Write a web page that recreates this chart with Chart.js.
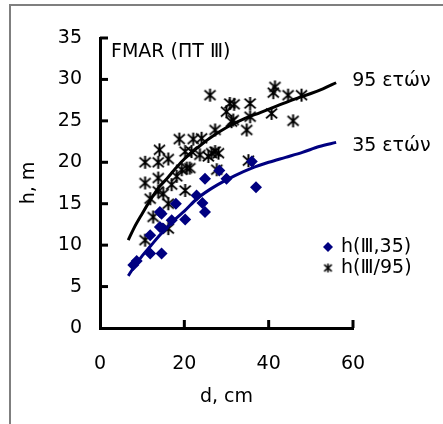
<!DOCTYPE html>
<html><head><meta charset="utf-8">
<script src="https://cdn.jsdelivr.net/npm/chart.js@4"></script>
<style>
html,body{margin:0;padding:0;background:#fff;}
#box{position:absolute;left:9px;top:4px;width:434px;height:420px;border-left:2px solid #808080;border-top:2px solid #808080;box-sizing:border-box;}
canvas{position:absolute;left:0;top:0;}
</style></head><body>
<div id="box"></div>
<canvas id="c" width="443" height="424"></canvas>
<script>
// observed points, 35-year heights
const d35 = [7.9, 8.7, 11.9, 11.9, 14.6, 14.2, 14.2, 14.9, 14.6, 17.0, 18.0, 20.2, 22.9, 24.3, 24.9, 24.9, 28.3, 30.0, 36.0, 37.0];
const h35 = [7.6, 8.1, 11.2, 9.0, 9.0, 14.0, 12.2, 12.0, 13.8, 13.0, 15.0, 13.1, 16.0, 15.1, 14.0, 18.0, 19.0, 18.0, 20.1, 17.0];
// observed points, 95-year heights
const d95 = [10.7, 12.6, 16.2, 11.9, 15.0, 16.2, 13.8, 10.7, 13.8, 17.0, 20.2, 18.2, 20.6, 10.7, 13.8, 16.2, 14.1, 19.4, 21.3, 20.2, 21.7, 23.7, 25.7, 27.3, 18.8, 22.1, 24.1, 27.3, 26.1, 26.5, 28.1, 27.7, 30.0, 30.8, 31.8, 31.6, 34.8, 35.6, 35.6, 35.2, 40.7, 41.1, 41.5, 44.6, 47.8, 45.8, 31.2];
const h95 = [10.6, 13.4, 12.0, 15.6, 16.2, 15.0, 16.5, 17.5, 18.1, 17.3, 16.6, 18.3, 19.3, 20.0, 20.0, 20.4, 21.5, 19.1, 19.3, 21.3, 21.3, 20.9, 20.7, 21.3, 22.8, 22.8, 22.9, 23.9, 28.1, 21.1, 21.1, 19.1, 26.1, 27.1, 27.0, 25.1, 23.9, 27.1, 25.5, 20.2, 25.9, 28.4, 29.1, 28.1, 28.1, 25.0, 24.9];
// fitted curves
const curveD35 = [6.7, 8, 10, 12, 14, 16, 18, 20, 23, 26, 29, 32, 36, 40, 44, 48, 52, 56];
const curveH35 = [6.3, 7.3, 8.7, 9.9, 11.1, 12.2, 13.2, 14.1, 15.6, 16.7, 17.6, 18.4, 19.3, 20.0, 20.6, 21.2, 21.9, 22.4];
const curveD95 = [6.7, 8, 10, 12, 14, 16, 18, 20, 23, 26, 30, 34, 38, 42, 46, 50, 53, 56];
const curveH95 = [10.6, 12.0, 13.8, 15.5, 17.0, 18.1, 19.3, 20.4, 21.7, 22.9, 24.2, 25.2, 26.0, 26.8, 27.6, 28.3, 28.9, 29.6];
const xTicks = [0, 20, 40, 60];
const yTicks = [0, 5, 10, 15, 20, 25, 30, 35];
const seriesLabels = ['h(Ⅲ,35)', 'h(Ⅲ/95)'];
const curveLabels = ['95 ετών', '35 ετών'];
const chartTitle = 'FMAR (ΠΤ Ⅲ)';
const xTitle = 'd, cm';
const yTitle = 'h, m';

const NAVY = '#000080';
const FONT = 'DejaVu Sans';
Chart.defaults.font.family = FONT;
Chart.defaults.font.size = 19;
Chart.defaults.color = '#000';

// asterisk marker (X with vertical bar)
function makeStar(size, lw) {
  const c = document.createElement('canvas');
  c.width = size; c.height = size;
  const g = c.getContext('2d');
  g.strokeStyle = '#000'; g.lineWidth = lw;
  const m = size / 2, r = size / 2 - 1;
  g.beginPath();
  g.moveTo(m - r * 0.85, m - r * 0.75); g.lineTo(m + r * 0.85, m + r * 0.75);
  g.moveTo(m + r * 0.85, m - r * 0.75); g.lineTo(m - r * 0.85, m + r * 0.75);
  g.moveTo(m, m - r); g.lineTo(m, m + r);
  g.stroke();
  return c;
}
const star = makeStar(15, 2);
const starSmall = makeStar(11, 1.5);

const pts = (xs, ys) => xs.map((x, i) => ({x: x, y: ys[i]}));

const extras = {
  id: 'extras',
  afterDraw(chart) {
    const ctx = chart.ctx, xs = chart.scales.x, ys = chart.scales.y, a = chart.chartArea;
    ctx.save();
    // outer frame (left and top edges visible)
    ctx.fillStyle = '#7f7f7f';
    ctx.fillRect(9, 4, 2, chart.height - 4);
    ctx.fillRect(9, 4, chart.width - 9, 2);
    ctx.strokeStyle = '#000'; ctx.lineWidth = 3; ctx.lineCap = 'butt';
    yTicks.forEach(v => { if (v === 0) return; const y = ys.getPixelForValue(v);
      ctx.beginPath(); ctx.moveTo(a.left, y); ctx.lineTo(a.left + 8, y); ctx.stroke(); });
    xTicks.forEach(v => { if (v === 0) return; const x = xs.getPixelForValue(v);
      ctx.beginPath(); ctx.moveTo(x, a.bottom); ctx.lineTo(x, a.bottom - 8); ctx.stroke(); });
    ctx.fillStyle = '#000';
    ctx.font = '19px "' + FONT + '"';
    ctx.textBaseline = 'middle'; ctx.textAlign = 'left';
    ctx.fillText(chartTitle, a.left + 11, 52);
    // curve end labels
    const xEnd = xs.getPixelForValue(curveD95[curveD95.length - 1]);
    ctx.fillText(curveLabels[0], xEnd + 16, ys.getPixelForValue(curveH95[curveH95.length - 1]) - 2);
    ctx.fillText(curveLabels[1], xEnd + 16, ys.getPixelForValue(curveH35[curveH35.length - 1]) + 4);
    // legend
    const lx = 328, ly1 = 247, ly2 = 268;
    ctx.fillStyle = NAVY;
    ctx.beginPath(); ctx.moveTo(lx, ly1 - 5); ctx.lineTo(lx + 5, ly1); ctx.lineTo(lx, ly1 + 5); ctx.lineTo(lx - 5, ly1); ctx.closePath(); ctx.fill();
    ctx.drawImage(starSmall, lx - 5.5, ly2 - 5.5);
    ctx.fillStyle = '#000';
    ctx.fillText(seriesLabels[0], lx + 13, ly1);
    ctx.fillText(seriesLabels[1], lx + 13, ly2);
    ctx.restore();
  }
};

new Chart(document.getElementById('c'), {
  type: 'scatter',
  data: {
    datasets: [
      {label: seriesLabels[0], data: pts(d35, h35), pointStyle: 'rectRot', pointRadius: 6,
       backgroundColor: NAVY, borderColor: NAVY, borderWidth: 0, order: 3},
      {label: seriesLabels[1], data: pts(d95, h95), pointStyle: star, pointRadius: 7.5,
       backgroundColor: '#000', borderColor: '#000', order: 4},
      {label: curveLabels[1], data: pts(curveD35, curveH35), showLine: true, pointRadius: 0,
       borderColor: NAVY, borderWidth: 3, tension: 0.4, cubicInterpolationMode: 'monotone', order: 1},
      {label: curveLabels[0], data: pts(curveD95, curveH95), showLine: true, pointRadius: 0,
       borderColor: '#000', borderWidth: 3, tension: 0.4, cubicInterpolationMode: 'monotone', order: 2}
    ]
  },
  options: {
    responsive: false, animation: false, devicePixelRatio: 1,
    layout: {padding: {left: 0, right: 90, top: 38, bottom: 0}},
    plugins: {legend: {display: false}, tooltip: {enabled: false}},
    scales: {
      x: {type: 'linear', min: 0, max: 60,
          afterBuildTicks: s => { s.ticks = xTicks.map(v => ({value: v})); },
          afterFit: s => { s.height = 96; },
          grid: {drawOnChartArea: false, drawTicks: false},
          border: {color: '#000', width: 3},
          ticks: {padding: 25, font: {size: 19}},
          title: {display: true, text: xTitle, font: {size: 19}, padding: {top: 0, bottom: 16}}},
      y: {type: 'linear', min: 0, max: 35,
          afterBuildTicks: s => { s.ticks = yTicks.map(v => ({value: v})); },
          afterFit: s => { s.width = 100; },
          grid: {drawOnChartArea: false, drawTicks: false},
          border: {color: '#000', width: 3},
          ticks: {padding: 18, font: {size: 19}},
          title: {display: true, text: yTitle, font: {size: 19}, padding: {top: 18, bottom: 0}}}
    }
  },
  plugins: [extras]
});
</script>
</body></html>
